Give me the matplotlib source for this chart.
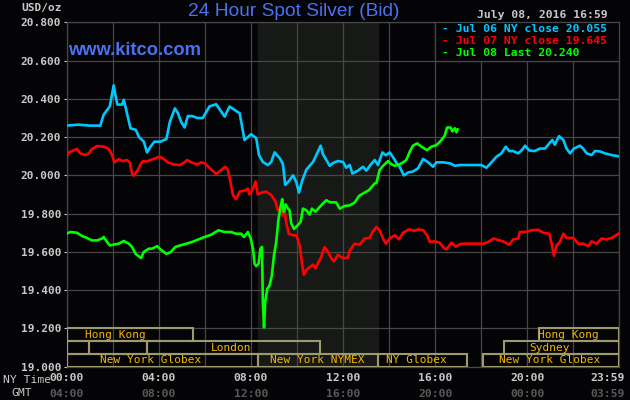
import matplotlib
matplotlib.use('Agg')
import matplotlib.pyplot as plt
from matplotlib.patches import Rectangle

# Jul 06 (cyan) - hours NY time, price
jul06_h = [0, 0.5, 1.0, 1.46, 1.6, 1.87, 2.04, 2.1, 2.2, 2.4, 2.48, 2.6, 2.77, 3.0, 3.14, 3.35, 3.49, 3.64,
           3.81, 4.07, 4.33, 4.48, 4.70, 4.83, 4.97, 5.12, 5.26, 5.45, 5.67, 5.91, 6.20, 6.49, 6.86, 7.07,
           7.29, 7.51, 7.58, 7.72, 7.87, 8.01, 8.23, 8.35, 8.52, 8.74, 8.88, 9.03, 9.25, 9.39, 9.49, 9.65,
           9.83, 9.97, 10.09, 10.22, 10.41, 10.55, 10.70, 10.84, 11.03, 11.13, 11.28, 11.42, 11.57, 11.78,
           12.0, 12.14, 12.29, 12.41, 12.65, 12.87, 13.01, 13.23, 13.38, 13.52, 13.71, 13.86, 14.03, 14.2,
           14.32, 14.46, 14.64, 14.83, 15.04, 15.26, 15.48, 15.70, 15.91, 16.06, 16.35, 16.64, 16.86, 17.07,
           17.72, 18.01, 18.23, 18.41, 18.67, 18.88, 19.07, 19.22, 19.39, 19.61, 19.75, 19.91, 20.09, 20.33,
           20.55, 20.77, 20.91, 21.09, 21.2, 21.38, 21.57, 21.71, 21.86, 22.03, 22.29, 22.43, 22.58, 22.8,
           22.94, 23.16, 23.38, 23.67, 23.96]
jul06_v = [20.26, 20.265, 20.26, 20.26, 20.316, 20.36, 20.47, 20.43, 20.37, 20.37, 20.395, 20.334, 20.246,
           20.238, 20.20, 20.176, 20.12, 20.15, 20.176, 20.176, 20.19, 20.28, 20.35, 20.325, 20.28, 20.25,
           20.31, 20.31, 20.30, 20.30, 20.36, 20.372, 20.307, 20.36, 20.342, 20.325, 20.28, 20.185, 20.20,
           20.215, 20.195, 20.106, 20.07, 20.054, 20.07, 20.12, 20.09, 20.06, 19.95, 19.97, 20.0, 19.965,
           19.91, 19.97, 20.03, 20.05, 20.07, 20.106, 20.155, 20.11, 20.08, 20.05, 20.065, 20.075, 20.07,
           20.04, 20.054, 20.01, 20.025, 20.045, 20.025, 20.06, 20.08, 20.054, 20.12, 20.105, 20.12, 20.09,
           20.065, 20.045, 20.0, 20.015, 20.02, 20.037, 20.086, 20.068, 20.045, 20.068, 20.068, 20.063,
           20.05, 20.054, 20.054, 20.054, 20.04, 20.063, 20.098, 20.115, 20.15, 20.127, 20.127, 20.115,
           20.13, 20.155, 20.13, 20.127, 20.14, 20.14, 20.16, 20.185, 20.16, 20.205, 20.185, 20.14, 20.115,
           20.14, 20.155, 20.14, 20.115, 20.106, 20.127, 20.125, 20.115, 20.106, 20.10]

# Jul 07 (red)
jul07_h = [0, 0.09, 0.23, 0.45, 0.59, 0.81, 0.96, 1.10, 1.32, 1.61, 1.83, 1.97, 2.07, 2.26, 2.41, 2.62, 2.74,
           2.84, 2.91, 3.09, 3.23, 3.32, 3.46, 3.64, 3.86, 4.04, 4.22, 4.39, 4.65, 4.91, 5.12, 5.23, 5.41,
           5.67, 5.84, 5.99, 6.20, 6.49, 6.71, 6.88, 7.0, 7.12, 7.22, 7.36, 7.51, 7.72, 7.87, 7.94, 8.09,
           8.20, 8.30, 8.45, 8.67, 8.88, 9.06, 9.17, 9.29, 9.35, 9.43, 9.54, 9.64, 9.83, 9.97, 10.12, 10.22,
           10.30, 10.41, 10.55, 10.70, 10.80, 10.91, 11.03, 11.20, 11.35, 11.49, 11.61, 11.78, 12.0, 12.22,
           12.29, 12.51, 12.72, 12.94, 13.16, 13.28, 13.45, 13.59, 13.74, 13.86, 14.03, 14.25, 14.43, 14.61,
           14.87, 15.12, 15.26, 15.48, 15.65, 15.77, 15.99, 16.2, 16.38, 16.49, 16.71, 16.9, 17.07, 17.22,
           17.72, 18.09, 18.30, 18.55, 18.74, 18.96, 19.22, 19.39, 19.61, 19.68, 19.90, 20.19, 20.48, 20.70,
           20.96, 21.06, 21.16, 21.28, 21.42, 21.57, 21.71, 22.0, 22.22, 22.43, 22.65, 22.80, 23.01, 23.23,
           23.45, 23.67, 23.96]
jul07_v = [20.098, 20.12, 20.127, 20.138, 20.115, 20.106, 20.115, 20.138, 20.153, 20.15, 20.138, 20.106,
           20.068, 20.085, 20.075, 20.08, 20.068, 20.01, 19.998, 20.028, 20.063, 20.075, 20.072, 20.08,
           20.09, 20.098, 20.085, 20.068, 20.057, 20.054, 20.068, 20.08, 20.068, 20.057, 20.068, 20.063,
           20.04, 20.007, 20.028, 20.045, 20.028, 19.96, 19.897, 19.876, 19.915, 19.92, 19.93, 19.90, 19.93,
           19.968, 19.90, 19.91, 19.915, 19.897, 19.865, 19.818, 19.826, 19.79, 19.836, 19.75, 19.696,
           19.687, 19.687, 19.634, 19.54, 19.48, 19.505, 19.52, 19.533, 19.515, 19.54, 19.567, 19.625, 19.60,
           19.567, 19.55, 19.585, 19.567, 19.57, 19.607, 19.643, 19.638, 19.67, 19.673, 19.704, 19.73,
           19.713, 19.67, 19.643, 19.67, 19.687, 19.666, 19.70, 19.718, 19.71, 19.718, 19.713, 19.687,
           19.652, 19.655, 19.648, 19.62, 19.613, 19.648, 19.627, 19.64, 19.643, 19.643, 19.643, 19.652,
           19.67, 19.662, 19.655, 19.637, 19.665, 19.67, 19.704, 19.704, 19.713, 19.716, 19.70, 19.695,
           19.643, 19.58, 19.635, 19.652, 19.695, 19.673, 19.673, 19.643, 19.643, 19.63, 19.655, 19.643,
           19.67, 19.665, 19.673, 19.695]

# Jul 08 (green), runs to 16:59
jul08_h = [0, 0.16, 0.45, 0.67, 0.88, 1.10, 1.32, 1.54, 1.61, 1.75, 1.87, 2.04, 2.26, 2.48, 2.70, 2.84, 2.99,
           3.23, 3.35, 3.57, 3.71, 3.93, 4.07, 4.33, 4.51, 4.72, 4.94, 5.20, 5.45, 5.74, 5.99, 6.28, 6.59,
           6.86, 7.14, 7.36, 7.58, 7.70, 7.87, 7.99, 8.09, 8.16, 8.23, 8.33, 8.42, 8.48, 8.52, 8.57, 8.62,
           8.71, 8.81, 8.91, 9.0, 9.10, 9.20, 9.29, 9.36, 9.43, 9.51, 9.61, 9.68, 9.75, 9.87, 10.04, 10.16,
           10.26, 10.41, 10.55, 10.65, 10.80, 10.99, 11.13, 11.28, 11.42, 11.71, 11.86, 12.07, 12.29, 12.51,
           12.70, 12.87, 13.13, 13.38, 13.45, 13.59, 13.74, 13.96, 14.1, 14.25, 14.46, 14.61, 14.75, 14.9,
           15.04, 15.22, 15.41, 15.65, 15.84, 16.06, 16.28, 16.42, 16.52, 16.67, 16.75, 16.86, 16.93, 16.98]
jul08_v = [19.695, 19.704, 19.70, 19.683, 19.673, 19.66, 19.66, 19.67, 19.678, 19.652, 19.634, 19.638,
           19.643, 19.657, 19.643, 19.626, 19.59, 19.568, 19.60, 19.617, 19.617, 19.63, 19.613, 19.59,
           19.598, 19.626, 19.634, 19.643, 19.652, 19.666, 19.678, 19.69, 19.713, 19.704, 19.704, 19.695,
           19.695, 19.678, 19.704, 19.67, 19.617, 19.538, 19.526, 19.538, 19.617, 19.626, 19.337, 19.205,
           19.337, 19.407, 19.424, 19.477, 19.58, 19.652, 19.774, 19.835, 19.876, 19.81, 19.848, 19.826,
           19.818, 19.75, 19.72, 19.74, 19.757, 19.826, 19.818, 19.795, 19.826, 19.81, 19.835, 19.853,
           19.87, 19.86, 19.858, 19.826, 19.84, 19.843, 19.858, 19.893, 19.905, 19.923, 19.958, 19.96,
           20.028, 20.05, 20.075, 20.058, 20.05, 20.058, 20.068, 20.08, 20.124, 20.155, 20.167, 20.15,
           20.132, 20.15, 20.158, 20.185, 20.208, 20.25, 20.25, 20.23, 20.246, 20.225, 20.24]

legend_lines = ['- Jul 06 NY close 20.055', '- Jul 07 NY close 19.645', '- Jul 08 Last 20.240']
ny_labels = ['00:00', '04:00', '08:00', '12:00', '16:00', '20:00']
gmt_labels = ['04:00', '08:00', '12:00', '16:00', '20:00', '00:00']

# market sessions: (row, start, end, name, text position)
markets = [
    (0, 0, 5.5, 'Hong Kong', 2.1),
    (0, 20.5, 24, 'Hong Kong', 21.8),
    (1, 0, 0.98, '', 0),
    (1, 0.98, 3.5, '', 0),
    (1, 3.5, 11.0, 'London', 7.15),
    (1, 19.0, 24, 'Sydney', 20.97),
    (2, 0, 8.33, 'New York Globex', 3.64),
    (2, 8.33, 13.5, 'New York NYMEX', 10.9),
    (2, 13.5, 17.39, 'NY Globex', 15.2),
    (2, 18.07, 24, 'New York Globex', 20.98),
]

bg = '#040407'
grid_c = '#474747'
txt_c = '#c8c8c8'
mono = 'DejaVu Sans Mono'

fig = plt.figure(figsize=(6.3, 4.0), dpi=100, facecolor=bg)
ax = fig.add_axes([66.7/630, 33.3/400, 552.6/630, 344.4/400], facecolor=bg)

ax.axvspan(8.33, 13.5, color='#161916', zorder=0)
ax.set_xlim(0, 24)
ax.set_ylim(19.0, 20.8)
ax.set_xticks(range(0, 25, 2))
ax.set_xticklabels([])
ax.set_yticks([19.0 + 0.2*i for i in range(10)])
ax.set_yticklabels(['%.3f' % (19.0 + 0.2*i) for i in range(10)], fontfamily=mono,
                   fontweight='bold', fontsize=8, color=txt_c)
ax.tick_params(axis='x', length=0)
ax.tick_params(axis='y', length=2, pad=2, color=txt_c)
ax.grid(True, color=grid_c, lw=0.9, zorder=1)
for s in ax.spines.values():
    s.set_color(grid_c)
    s.set_linewidth(0.9)

ax.plot(jul06_h, jul06_v, color='#00c8ff', lw=1.9, zorder=4)
ax.plot(jul07_h, jul07_v, color='#ff0000', lw=1.9, zorder=5)
ax.plot(jul08_h, jul08_v, color='#00ff00', lw=1.9, zorder=6)

# legend box
ax.add_patch(Rectangle((16, 20.6), 8, 0.2, facecolor=bg, edgecolor=grid_c, lw=0.9, zorder=3))
for i, (t, c) in enumerate(zip(legend_lines, ['#00c8ff', '#ff0000', '#00ff00'])):
    ax.text(16.3, 20.763 - 0.0625*i, t, color=c, fontfamily=mono, fontweight='bold',
            fontsize=8.2, va='center', ha='left', zorder=7)

# market session boxes
row_h = 0.2/3
for row, x0, x1, name, tx in markets:
    y0 = 19.2 - row_h*(row + 1)
    ax.add_patch(Rectangle((x0, y0), x1 - x0, row_h, facecolor='none', edgecolor='#9d9a6e',
                           lw=1.5, zorder=3))
    if name:
        ax.text(tx, y0 + row_h/2, name, color='#f5b800', fontfamily=mono, fontsize=8,
                ha='center', va='center', zorder=4)

ax.text(0.05, 20.655, 'www.kitco.com', color='#4a72f0', fontfamily='Liberation Sans',
        fontweight='bold', fontsize=13.2, va='center', ha='left', zorder=2)

# x labels
xt = ax.get_xaxis_transform()
for i, (a, b) in enumerate(zip(ny_labels, gmt_labels)):
    ax.text(4*i, -0.034, a, transform=xt, ha='center', va='center', color=txt_c,
            fontfamily=mono, fontweight='bold', fontsize=8.2)
    ax.text(4*i, -0.078, b, transform=xt, ha='center', va='center', color='#595959',
            fontfamily=mono, fontweight='bold', fontsize=8.2)
ax.text(24.25, -0.034, '23:59', transform=xt, ha='right', va='center', color=txt_c,
        fontfamily=mono, fontweight='bold', fontsize=8.2, clip_on=False)
ax.text(24.25, -0.078, '03:59', transform=xt, ha='right', va='center', color='#595959',
        fontfamily=mono, fontweight='bold', fontsize=8.2, clip_on=False)

fig.text(3.3/630, 1 - 380/400, 'NY Time', color=txt_c, fontfamily=mono, fontsize=8.2,
         ha='left', va='center')
fig.text(11.7/630, 1 - 393.3/400, 'GMT', color=txt_c, fontfamily=mono, fontsize=8.2,
         ha='left', va='center')
fig.text(62/630, 1 - 8.3/400, 'USD/oz', color=txt_c, fontfamily=mono, fontweight='bold',
         fontsize=8, ha='right', va='center')
fig.text(294/630, 1 - 11.5/400, '24 Hour Spot Silver (Bid)', color='#4a72f0',
         fontfamily='Liberation Sans', fontsize=13.8, ha='center', va='center')
fig.text(608/630, 1 - 15/400, 'July 08, 2016 16:59', color=txt_c, fontfamily=mono,
         fontweight='bold', fontsize=8.2, ha='right', va='center')

fig.savefig('out.png', dpi=100, facecolor=bg)
